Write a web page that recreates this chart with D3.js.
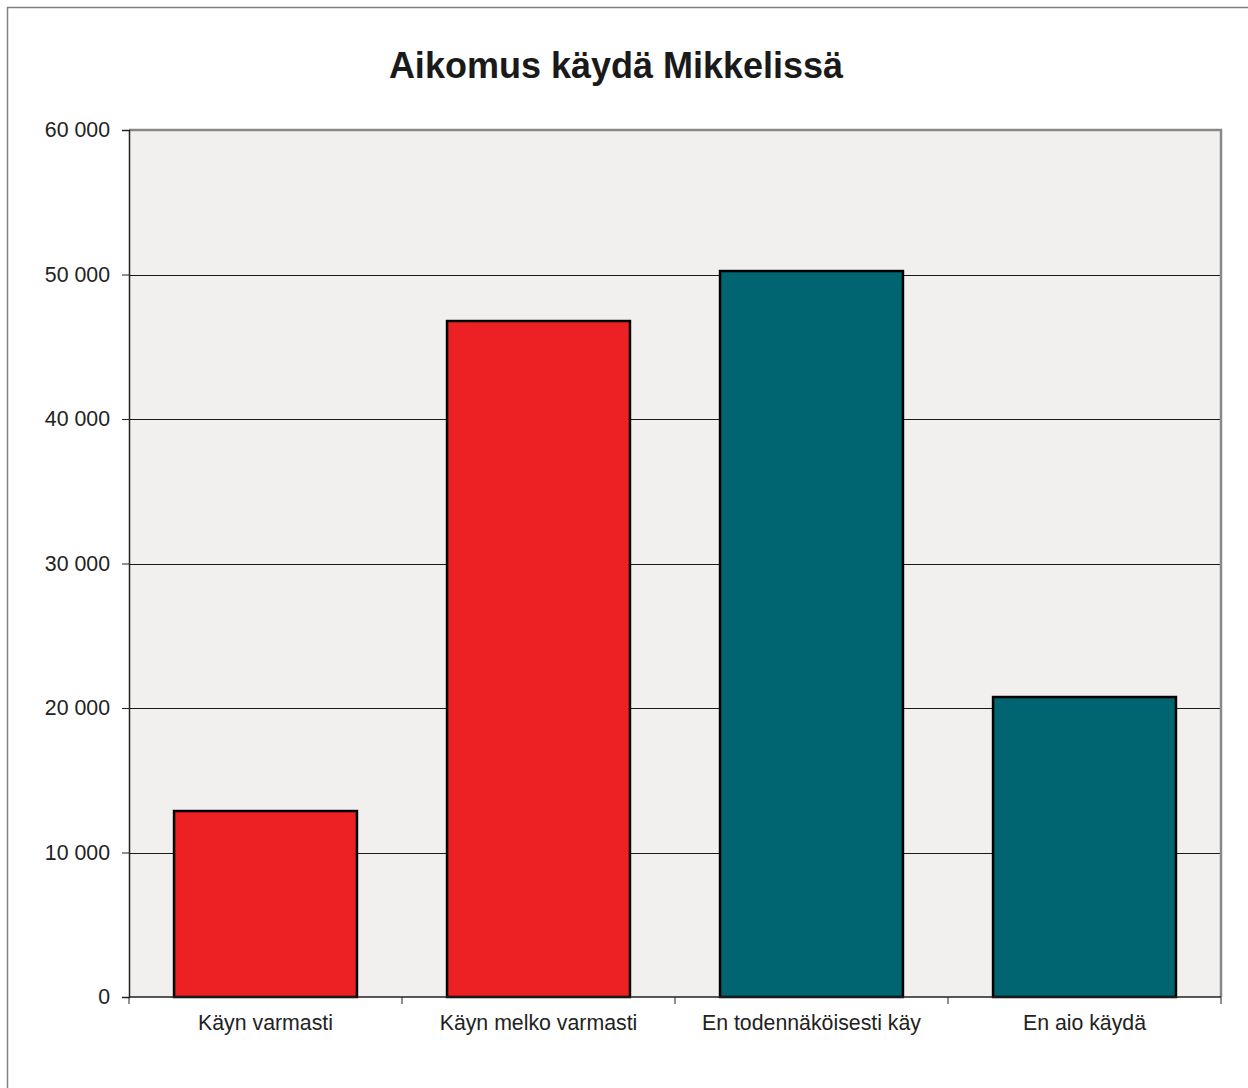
<!DOCTYPE html>
<html><head><meta charset="utf-8">
<script src="https://cdn.jsdelivr.net/npm/d3@7"></script>
<style>body{margin:0;background:#fff}svg{display:block}</style>
</head><body>
<script>
const categories = ["Käyn varmasti", "Käyn melko varmasti", "En todennäköisesti käy", "En aio käydä"];
const values = [12870, 46780, 50240, 20760];
const barColors = ["#ED2024", "#ED2024", "#006471", "#006471"];
const yTicks = [0, 10000, 20000, 30000, 40000, 50000, 60000];
const titleText = "Aikomus käydä Mikkelissä";

const W = 1248, H = 1088;
const m = {left:129, top:130, right:1221, bottom:997};
const svg = d3.select("body").append("svg").attr("width", W).attr("height", H);
const font = "'Liberation Sans', Arial, sans-serif";

// outer border
svg.append("rect").attr("x",7.5).attr("y",7.5).attr("width",W).attr("height",H)
  .attr("fill","#fff").attr("stroke","#808080").attr("stroke-width",1.5);

const x = d3.scaleBand().domain(categories).range([m.left, m.right]).paddingInner(0.33).paddingOuter(0.165);
const xb = d3.scaleBand().domain(categories).range([m.left, m.right]);
const y = d3.scaleLinear().domain([0, 60000]).range([m.bottom, m.top]);

// plot bg
svg.append("rect").attr("x",m.left).attr("y",m.top).attr("width",m.right-m.left).attr("height",m.bottom-m.top)
  .attr("fill","#F1F0EE");

// gridlines
svg.append("g").selectAll("line").data(yTicks.filter(d=>d>0 && d<60000)).join("line")
  .attr("x1",m.left).attr("x2",m.right).attr("y1",d=>Math.round(y(d))+0.5).attr("y2",d=>Math.round(y(d))+0.5)
  .attr("stroke","#1a1a1a").attr("stroke-width",1);

// plot border top/right
svg.append("path").attr("d",`M${m.left},${m.top} H${m.right} V${m.bottom}`)
  .attr("fill","none").attr("stroke","#888").attr("stroke-width",2.5);

// bars
svg.append("g").selectAll("rect").data(values).join("rect")
  .attr("x",(d,i)=>x(categories[i])).attr("width",x.bandwidth())
  .attr("y",d=>y(d)).attr("height",d=>y(0)-y(d))
  .attr("fill",(d,i)=>barColors[i]).attr("stroke","#000").attr("stroke-width",2.5);

// y axis
const ya = d3.axisLeft(y).tickValues(yTicks).tickSize(7).tickPadding(12)
  .tickFormat(d=>d3.format(",")(d).replace(/,/g," "));
const yg = svg.append("g").attr("transform",`translate(${m.left},0)`).call(ya);
yg.select(".domain").attr("stroke","#222").attr("stroke-width",1.5);
yg.selectAll(".tick line").attr("stroke","#222");
yg.selectAll("text").attr("font-family",font).attr("font-size",21.3).attr("fill","#222");

// x axis
const xg = svg.append("g").attr("transform",`translate(0,${m.bottom})`);
xg.append("line").attr("x1",m.left).attr("x2",m.right).attr("y1",0).attr("y2",0).attr("stroke","#222").attr("stroke-width",1.5);
const bounds = categories.map(c=>xb(c)).concat([m.right]);
xg.selectAll("line.tk").data(bounds).join("line").attr("class","tk")
  .attr("x1",d=>d).attr("x2",d=>d).attr("y1",0).attr("y2",7).attr("stroke","#222");
xg.selectAll("text").data(categories).join("text")
  .attr("x",d=>xb(d)+xb.bandwidth()/2).attr("y",33).attr("text-anchor","middle")
  .attr("font-family",font).attr("font-size",21.3).attr("fill","#222").text(d=>d);

// title
svg.append("text").attr("x",616).attr("y",78).attr("text-anchor","middle")
  .attr("font-family",font).attr("font-size",36).attr("font-weight","bold").attr("fill","#1a1a1a").text(titleText);
</script>
</body></html>
